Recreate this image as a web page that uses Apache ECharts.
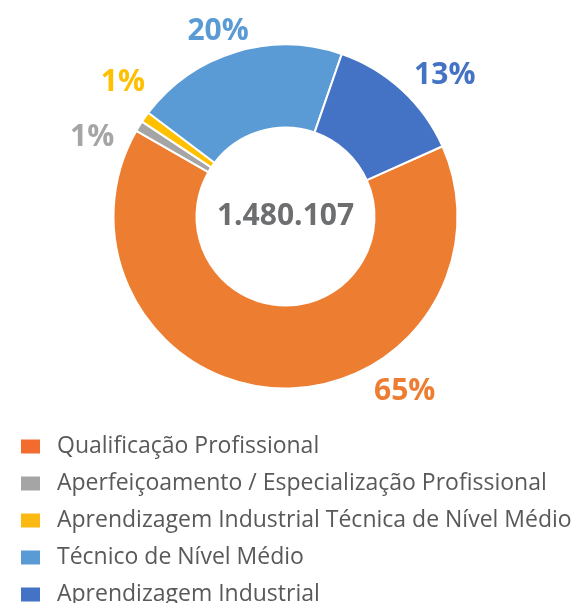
<!DOCTYPE html>
<html>
<head>
<meta charset="utf-8">
<script src="https://cdn.jsdelivr.net/npm/echarts@6/dist/echarts.min.js"></script>
<style>
  html, body { margin: 0; padding: 0; background: #fff; }
  #chart { width: 578px; height: 603px; }
</style>
</head>
<body>
<div id="chart"></div>
<script>
const categories = [
  'Qualificação Profissional',
  'Aperfeiçoamento / Especialização Profissional',
  'Aprendizagem Industrial Técnica de Nível Médio',
  'Técnico de Nível Médio',
  'Aprendizagem Industrial',
];
const shares = [65, 1, 1, 20, 13];
const totalLabel = '1.480.107';

const sliceColors = ['#ED7D31', '#A5A5A5', '#FFC000', '#5B9BD5', '#4472C4'];
const legendColors = ['#F26B2F', '#A5A5A5', '#FDB913', '#5B9BD5', '#4472C4'];
// where each percentage label sits (degrees clockwise from 12 o'clock)
const labelAngles = [145.8, 292.3, 309.6, 340, 48.4];
const labelRadius = [212, 209, 211, 197, 213];

const cx = 285.5, cy = 216.5;

const chart = echarts.init(document.getElementById('chart'));

chart.setOption({
  animation: false,
  legend: {
    orient: 'vertical',
    left: 14,
    top: 430,
    height: 300,
    itemWidth: 21,
    itemHeight: 16,
    itemGap: 14,
    icon: 'rect',
    selectedMode: false,
    textStyle: {
      fontFamily: 'Open Sans',
      fontSize: 23,
      lineHeight: 23,
      color: '#595959',
      padding: [0, 0, 0, 11],
    },
    data: categories.map((name, i) => ({
      name,
      itemStyle: { color: legendColors[i] },
    })),
  },
  graphic: [
    {
      type: 'text',
      x: cx,
      y: cy,
      style: {
        text: totalLabel,
        align: 'center',
        verticalAlign: 'middle',
        fontFamily: 'Open Sans',
        fontWeight: 'bold',
        fontSize: 30,
        fill: '#6D6E70',
      },
    },
  ],
  series: [
    {
      type: 'pie',
      center: [cx, cy],
      radius: [89, 172],
      startAngle: 24.1,
      clockwise: true,
      itemStyle: { borderColor: '#fff', borderWidth: 2 },
      label: {
        show: true,
        position: 'outside',
        formatter: '{c}%',
        fontFamily: 'Open Sans',
        fontWeight: 'bold',
        fontSize: 30,
      },
      labelLine: { show: false },
      labelLayout: params => {
        const a = labelAngles[params.dataIndex] * Math.PI / 180;
        const r = labelRadius[params.dataIndex];
        return {
          x: cx + r * Math.sin(a),
          y: cy - r * Math.cos(a),
          align: 'center',
          verticalAlign: 'middle',
        };
      },
      emphasis: { disabled: true },
      data: categories.map((name, i) => ({
        name,
        value: shares[i],
        itemStyle: { color: sliceColors[i] },
        label: { color: sliceColors[i] },
      })),
    },
  ],
});
</script>
</body>
</html>
